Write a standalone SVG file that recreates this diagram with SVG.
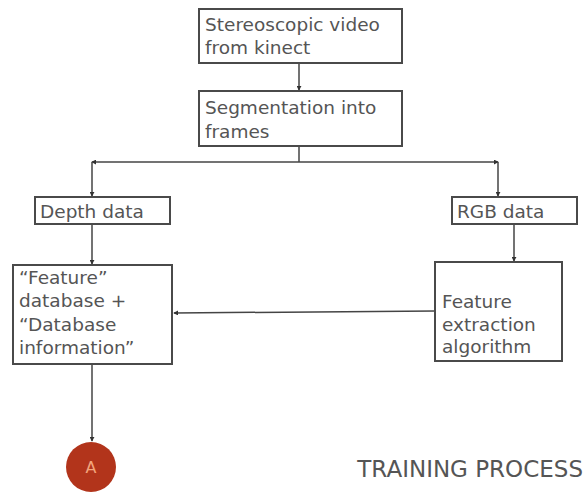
<svg xmlns="http://www.w3.org/2000/svg" width="587" height="494" viewBox="0 0 587 494">
<style>
.box{fill:#fff;stroke:#4a4a4a;stroke-width:2}
.t{font-family:"DejaVu Sans","Liberation Sans",sans-serif;font-size:18.5px;fill:#555}
.c{fill:none;stroke:#444;stroke-width:1.5}
</style>
<defs>
<marker id="ah" viewBox="0 0 6 6" refX="5" refY="3" markerWidth="5" markerHeight="5" orient="auto" markerUnits="userSpaceOnUse">
<path d="M0,0 L6,3 L0,6 z" fill="#333"/>
</marker>
</defs>
<rect width="587" height="494" fill="#fff"/>
<g id="connectors">
<line class="c" x1="299" y1="63" x2="299" y2="90" marker-end="url(#ah)"/>
<line class="c" x1="299" y1="146" x2="299" y2="162"/>
<polyline class="c" points="299,162 92,162" marker-end="url(#ah)"/>
<polyline class="c" points="299,162 498,162" marker-end="url(#ah)"/>
<line class="c" x1="92" y1="162" x2="92" y2="196" marker-end="url(#ah)"/>
<line class="c" x1="498" y1="162" x2="498" y2="196" marker-end="url(#ah)"/>
<line class="c" x1="92" y1="224" x2="92" y2="264" marker-end="url(#ah)"/>
<line class="c" x1="514" y1="224" x2="514" y2="261" marker-end="url(#ah)"/>
<line class="c" x1="435" y1="311" x2="174" y2="313" marker-end="url(#ah)"/>
<line class="c" x1="92" y1="364" x2="92" y2="441" marker-end="url(#ah)"/>
</g>
<g id="n1">
<rect class="box" x="199" y="9" width="203" height="54"/>
<text class="t" x="205" y="31">Stereoscopic video</text>
<text class="t" x="205" y="54">from kinect</text>
</g>
<g id="n2">
<rect class="box" x="199" y="91" width="203" height="55"/>
<text class="t" x="205" y="114">Segmentation into</text>
<text class="t" x="205" y="138">frames</text>
</g>
<g id="n3">
<rect class="box" x="35" y="197" width="135" height="27"/>
<text class="t" x="40" y="218">Depth data</text>
</g>
<g id="n4">
<rect class="box" x="452" y="197" width="125" height="27"/>
<text class="t" x="457" y="218">RGB data</text>
</g>
<g id="n5">
<rect class="box" x="13" y="265" width="159" height="99"/>
<text class="t" x="19" y="284">“Feature”</text>
<text class="t" x="19" y="307">database +</text>
<text class="t" x="19" y="331">“Database</text>
<text class="t" x="19" y="354">information”</text>
</g>
<g id="n6">
<rect class="box" x="435" y="262" width="127" height="99"/>
<text class="t" x="442" y="308">Feature</text>
<text class="t" x="442" y="331">extraction</text>
<text class="t" x="442" y="353">algorithm</text>
</g>
<g id="nA">
<circle cx="91" cy="467" r="25" fill="#b2341b"/>
<text x="91" y="473" text-anchor="middle" font-family="DejaVu Sans,sans-serif" font-size="16" fill="#f3a57c">A</text>
</g>
<g id="title">
<text x="583" y="477" text-anchor="end" font-family="DejaVu Sans,sans-serif" font-size="23" fill="#555">TRAINING PROCESS</text>
</g>
</svg>
